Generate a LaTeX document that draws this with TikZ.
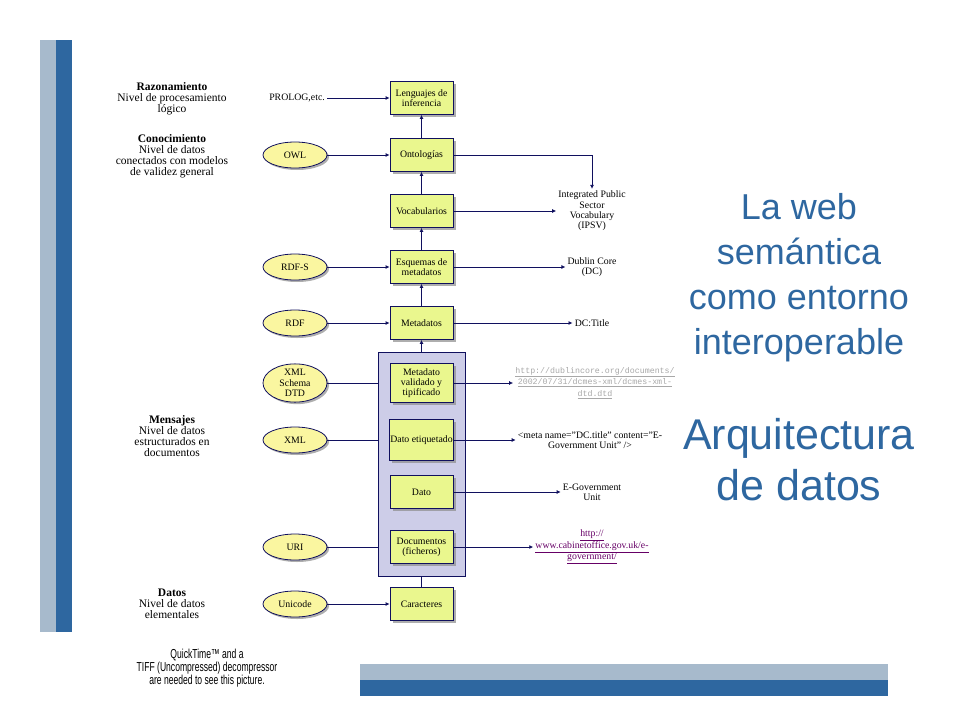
\documentclass[tikz,border=0pt]{standalone}
\usepackage{fontspec}
\setmainfont{Liberation Serif}
\newfontfamily\slidefont{Liberation Sans}
\newfontfamily\narrowfont[FakeStretch=0.66]{Liberation Sans}
\newfontfamily\urlfont{Liberation Mono}
\usepackage{tikz}
\usetikzlibrary{shapes.geometric, arrows.meta, positioning, shadows}
\definecolor{SlideBlue}{HTML}{2E67A0}
\definecolor{SlideGrey}{HTML}{A7BACC}
\definecolor{DiagLime}{HTML}{EAF78E}
\definecolor{DiagCream}{HTML}{FAF6A0}
\definecolor{DiagLilac}{HTML}{CDCDE8}
\definecolor{DiagNavy}{HTML}{10105E}
\definecolor{LinkPurple}{HTML}{660066}
\definecolor{UrlGrey}{HTML}{A8A8A8}
\newcommand{\dq}{\symbol{34}}
\tikzset{
    % Boxes of the layer stack
    layer/.style={
        rectangle,
        draw=DiagNavy,
        fill=DiagLime,
        line width=0.8pt,
        minimum width=63pt,
        minimum height=33pt,
        inner sep=1pt,
        align=center,
        font=\fontsize{9.8}{10.3}\selectfont,
        drop shadow={shadow xshift=2.5pt, shadow yshift=-2.5pt, fill=black!45, opacity=0.7}
    },
    container/.style={
        rectangle,
        draw=DiagNavy,
        fill=DiagLilac,
        line width=0.8pt,
        minimum width=87pt,
        minimum height=224pt
    },
    format/.style={
        ellipse,
        draw=DiagNavy,
        fill=DiagCream,
        line width=0.8pt,
        minimum width=64pt,
        minimum height=26pt,
        inner sep=0pt,
        align=center,
        font=\fontsize{9.8}{10.3}\selectfont,
        drop shadow={shadow xshift=2pt, shadow yshift=-2pt, fill=black!45, opacity=0.7}
    },
    source/.style={
        inner sep=2pt,
        align=center,
        font=\fontsize{9.8}{10.3}\selectfont
    },
    level/.style={
        align=center,
        font=\fontsize{11.5}{11}\selectfont
    },
    headline/.style={
        align=center,
        text=SlideBlue,
        font=\slidefont\fontsize{36}{45}\selectfont
    },
    arrow style/.style={
        -{Latex[length=4pt, width=4pt]},
        line width=0.8pt,
        DiagNavy
    },
    link style/.style={
        line width=0.8pt,
        DiagNavy
    }
}

\begin{document}
\begin{tikzpicture}[x=1pt, y=-1pt]
    \useasboundingbox (0,0) rectangle (960,720);

    % Slide decoration
    \fill[SlideGrey] (40,40) rectangle (56,632);
    \fill[SlideBlue] (56,40) rectangle (72,632);
    \fill[SlideGrey] (360,664) rectangle (888,680);
    \fill[SlideBlue] (360,680) rectangle (888,696);

    % Levels
    \node[level] (razon) at (172,99) {\textbf{Razonamiento}\\Nivel de procesamiento\\lógico};
    \node[level] (conoc) at (172,156.5) {\textbf{Conocimiento}\\Nivel de datos\\conectados con modelos\\de validez general};
    \node[level] (mensajes) at (172,436.5) {\textbf{Mensajes}\\Nivel de datos\\estructurados en\\documentos};
    \node[level] (datos) at (172,604) {\textbf{Datos}\\Nivel de datos\\elementales};

    % Layer stack
    \node[layer] (lenguajes) at (421.5,98) {Lenguajes de\\inferencia};
    \node[layer] (ontologias) at (421.5,155) {Ontologías};
    \node[layer] (vocab) at (421.5,211) {Vocabularios};
    \node[layer] (esquemas) at (421.5,267) {Esquemas de\\metadatos};
    \node[layer] (metadatos) at (421.5,323) {Metadatos};
    \node[container] (mensaje) at (421.5,464) {};
    \node[layer, minimum height=39pt] (validado) at (421.5,383) {Metadato\\validado y\\tipificado};
    \node[layer, minimum height=41pt] (etiquetado) at (421.5,440) {Dato etiquetado};
    \node[layer] (dato) at (421.5,492) {Dato};
    \node[layer] (documentos) at (421.5,547) {Documentos\\(ficheros)};
    \node[layer] (caracteres) at (421.5,604) {Caracteres};

    % Formats
    \node[source, anchor=east] (prolog) at (327,98) {PROLOG,etc.};
    \node[format] (owl) at (295,155) {OWL};
    \node[format] (rdfs) at (295,267) {RDF-S};
    \node[format] (rdf) at (295,323) {RDF};
    \node[format, minimum height=34pt] (schema) at (295,383) {XML\\Schema\\DTD};
    \node[format] (xml) at (295,440) {XML};
    \node[format] (uri) at (295,547) {URI};
    \node[format] (unicode) at (295,604) {Unicode};

    % Examples
    \node[source] (ipsv) at (592,211) {Integrated Public\\Sector\\Vocabulary\\(IPSV)};
    \node[source] (dublin) at (592,267) {Dublin Core\\(DC)};
    \node[source] (dctitle) at (592,323) {DC:Title};
    \node[source, font=\urlfont\fontsize{8.3}{11.5}\selectfont, text=UrlGrey] (dtd) at (595,383)
        {\underline{http://dublincore.org/documents/}\\\underline{2002/07/31/dcmes-xml/dcmes-xml-}\\\underline{dtd.dtd}};
    \node[source] (metatag) at (590,440) {<meta name=\dq DC.title\dq{} content=\dq E-\\Government Unit\dq{} />};
    \node[source] (egov) at (592,492) {E-Government\\Unit};
    \node[source, text=LinkPurple, font=\fontsize{9.8}{11.5}\selectfont] (cabinet) at (592,547)
        {\underline{http://}\\\underline{www.cabinetoffice.gov.uk/e-}\\\underline{government/}};

    % Title
    \node[headline] (title) at (799,278) {La web\\semántica\\como entorno\\interoperable};
    \node[headline, font=\slidefont\fontsize{43}{51}\selectfont] (subtitle) at (799,460) {Arquitectura\\de datos};

    % Notice
    \node[align=center, font=\narrowfont\fontsize{13}{13}\selectfont] (notice) at (207,668)
        {QuickTime™ and a\\TIFF (Uncompressed) decompressor\\are needed to see this picture.};

    % Stack arrows
    \draw[arrow style] (ontologias) -- (lenguajes);
    \draw[arrow style] (vocab) -- (ontologias);
    \draw[arrow style] (esquemas) -- (vocab);
    \draw[arrow style] (metadatos) -- (esquemas);
    \draw[arrow style] (mensaje) -- (metadatos);
    \draw[link style] (caracteres) -- (mensaje);

    % Format arrows
    \draw[arrow style] (prolog) -- (lenguajes);
    \draw[arrow style] (owl) -- (ontologias);
    \draw[arrow style] (rdfs) -- (esquemas);
    \draw[arrow style] (rdf) -- (metadatos);
    \draw[link style] (schema.east) -- (schema.east -| mensaje.west);
    \draw[link style] (xml.east) -- (xml.east -| mensaje.west);
    \draw[link style] (uri.east) -- (uri.east -| mensaje.west);
    \draw[arrow style] (unicode) -- (caracteres);

    % Example arrows
    \draw[arrow style] (ontologias.east) -| (ipsv.north);
    \draw[arrow style] (vocab) -- (ipsv);
    \draw[arrow style] (esquemas) -- (dublin);
    \draw[arrow style] (metadatos) -- (dctitle);
    \draw[arrow style] (validado) -- (dtd);
    \draw[arrow style] (etiquetado) -- (metatag);
    \draw[arrow style] (dato) -- (egov);
    \draw[arrow style] (documentos) -- (cabinet);
\end{tikzpicture}
\end{document}
